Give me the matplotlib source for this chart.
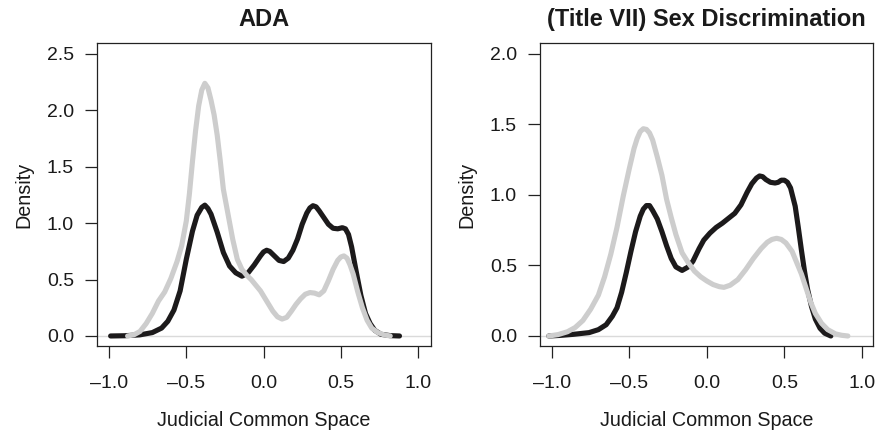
import matplotlib
matplotlib.use("Agg")
import matplotlib.pyplot as plt

plt.rcParams["font.family"] = ["Liberation Sans", "DejaVu Sans"]

# ADA panel
ada_black_x = [-0.99, -0.90, -0.80, -0.72, -0.66, -0.62, -0.58, -0.54, -0.50, -0.46,
               -0.43, -0.40, -0.38, -0.36, -0.34, -0.30, -0.26, -0.22, -0.18, -0.14,
               -0.10, -0.06, -0.02, 0.0, 0.02, 0.04, 0.07, 0.10, 0.13, 0.16,
               0.19, 0.22, 0.25, 0.28, 0.30, 0.32, 0.34, 0.36, 0.39, 0.42,
               0.45, 0.48, 0.51, 0.53, 0.55, 0.57, 0.60, 0.63, 0.66,
               0.69, 0.72, 0.76, 0.82, 0.88]
ada_black_y = [0.0, 0.002, 0.01, 0.03, 0.07, 0.13, 0.23, 0.40, 0.68, 0.93,
               1.07, 1.14, 1.16, 1.13, 1.08, 0.92, 0.74, 0.62, 0.56, 0.53,
               0.56, 0.63, 0.71, 0.745, 0.76, 0.75, 0.71, 0.67, 0.66, 0.69,
               0.76, 0.86, 0.99, 1.09, 1.135, 1.155, 1.145, 1.11, 1.05, 0.99,
               0.955, 0.95, 0.96, 0.95, 0.90, 0.79, 0.57, 0.36, 0.20,
               0.11, 0.05, 0.015, 0.003, 0.0]

ada_gray_x = [-0.88, -0.84, -0.80, -0.76, -0.72, -0.68, -0.64, -0.60, -0.56, -0.53,
              -0.50, -0.48, -0.46, -0.44, -0.42, -0.40, -0.38, -0.36, -0.34, -0.32,
              -0.30, -0.28, -0.26, -0.23, -0.20, -0.17, -0.14, -0.11, -0.08, -0.05,
              -0.02, 0.02, 0.06, 0.09, 0.12, 0.15, 0.18, 0.21, 0.24, 0.27,
              0.30, 0.33, 0.36, 0.39, 0.42, 0.45, 0.48, 0.50, 0.52, 0.54,
              0.56, 0.58, 0.61, 0.64, 0.67, 0.70, 0.74, 0.78, 0.82]
ada_gray_y = [0.0, 0.01, 0.04, 0.11, 0.20, 0.31, 0.39, 0.51, 0.66, 0.80,
              1.02, 1.26, 1.55, 1.82, 2.04, 2.18, 2.24, 2.20, 2.09, 1.96,
              1.78, 1.55, 1.30, 1.08, 0.86, 0.68, 0.59, 0.54, 0.50, 0.45,
              0.40, 0.31, 0.22, 0.17, 0.15, 0.165, 0.22, 0.28, 0.33, 0.37,
              0.385, 0.38, 0.365, 0.40, 0.49, 0.59, 0.67, 0.70, 0.71, 0.69,
              0.63, 0.55, 0.39, 0.25, 0.14, 0.07, 0.03, 0.01, 0.0]

# Sex discrimination panel
sex_black_x = [-1.02, -0.95, -0.86, -0.76, -0.70, -0.65, -0.61, -0.58, -0.55, -0.52,
               -0.49, -0.46, -0.43, -0.41, -0.39, -0.37, -0.35, -0.32, -0.29, -0.26,
               -0.23, -0.20, -0.16, -0.12, -0.09, -0.05, -0.02, 0.02, 0.06, 0.10,
               0.14, 0.18, 0.22, 0.26, 0.29, 0.32, 0.34, 0.36, 0.38, 0.41,
               0.44, 0.46, 0.48, 0.50, 0.52, 0.54, 0.57, 0.59, 0.61, 0.63,
               0.65, 0.675, 0.70, 0.73, 0.76, 0.80]
sex_black_y = [0.0, 0.004, 0.012, 0.024, 0.045, 0.08, 0.14, 0.20, 0.31, 0.45,
               0.60, 0.74, 0.85, 0.90, 0.925, 0.925, 0.89, 0.83, 0.74, 0.64,
               0.55, 0.49, 0.465, 0.49, 0.53, 0.62, 0.68, 0.73, 0.77, 0.80,
               0.835, 0.87, 0.93, 1.02, 1.08, 1.12, 1.135, 1.13, 1.11, 1.09,
               1.085, 1.09, 1.105, 1.105, 1.09, 1.05, 0.92, 0.77, 0.61, 0.46,
               0.33, 0.21, 0.12, 0.055, 0.02, 0.0]

sex_gray_x = [-1.02, -0.96, -0.90, -0.85, -0.80, -0.75, -0.70, -0.66, -0.62, -0.58,
              -0.54, -0.50, -0.47, -0.45, -0.43, -0.41, -0.39, -0.37, -0.35, -0.32,
              -0.29, -0.26, -0.23, -0.20, -0.16, -0.12, -0.08, -0.04, 0.0, 0.04,
              0.08, 0.11, 0.15, 0.20, 0.25, 0.30, 0.35, 0.39, 0.42, 0.45,
              0.48, 0.51, 0.55, 0.58, 0.61, 0.64, 0.67, 0.70, 0.74, 0.78,
              0.83, 0.87, 0.91]
sex_gray_y = [0.0, 0.01, 0.03, 0.06, 0.11, 0.19, 0.29, 0.42, 0.58, 0.77,
              0.99, 1.19, 1.33, 1.40, 1.45, 1.47, 1.465, 1.44, 1.39, 1.27,
              1.14, 0.97, 0.84, 0.72, 0.59, 0.52, 0.46, 0.42, 0.39, 0.365,
              0.35, 0.345, 0.36, 0.40, 0.47, 0.55, 0.62, 0.665, 0.685, 0.693,
              0.685, 0.66, 0.60, 0.52, 0.44, 0.34, 0.24, 0.16, 0.09, 0.045,
              0.015, 0.005, 0.0]

x_ticks = [-1.0, -0.5, 0.0, 0.5, 1.0]
x_tick_labels = ["\u20131.0", "\u20130.5", "0.0", "0.5", "1.0"]
ada_y_ticks = [0.0, 0.5, 1.0, 1.5, 2.0, 2.5]
sex_y_ticks = [0.0, 0.5, 1.0, 1.5, 2.0]

BLACK = "#1c1a1b"
GRAY = "#cdcdcd"
TEXT = "#1a1a1a"

fig = plt.figure(figsize=(8.78, 4.33), dpi=100)
fig.patch.set_facecolor("white")

panels = [
    dict(pos=[0.1105, 0.2009, 0.3804, 0.6998], title="ADA",
         bx=ada_black_x, by=ada_black_y, gx=ada_gray_x, gy=ada_gray_y,
         xlim=(-1.078, 1.084), ylim=(-0.089, 2.5975), yt=ada_y_ticks),
    dict(pos=[0.615, 0.2009, 0.3793, 0.6998], title="(Title VII) Sex Discrimination",
         bx=sex_black_x, by=sex_black_y, gx=sex_gray_x, gy=sex_gray_y,
         xlim=(-1.077, 1.072), ylim=(-0.071, 2.078), yt=sex_y_ticks),
]

for p in panels:
    ax = fig.add_axes(p["pos"])
    ax.axhline(0, color="#dadada", lw=1.0, zorder=1)
    ax.plot(p["bx"], p["by"], color=BLACK, lw=3.7, solid_capstyle="round",
            solid_joinstyle="round", zorder=2)
    ax.plot(p["gx"], p["gy"], color=GRAY, lw=3.7, solid_capstyle="round",
            solid_joinstyle="round", zorder=3)
    ax.set_xlim(*p["xlim"]); ax.set_ylim(*p["ylim"])
    ax.set_xticks(x_ticks)
    ax.set_xticklabels(x_tick_labels)
    ax.set_yticks(p["yt"])
    ax.set_yticklabels([f"{v:.1f}" for v in p["yt"]])
    for sp in ax.spines.values():
        sp.set_linewidth(0.9); sp.set_color("#222222")
    ax.tick_params(direction="out", length=8.6, width=0.9, colors="#222222",
                   labelsize=14, labelcolor=TEXT)
    ax.tick_params(axis="x", pad=12)
    ax.tick_params(axis="y", pad=8)
    ax.set_xlabel("Judicial Common Space", fontsize=14.2, color=TEXT, labelpad=14)
    ax.set_ylabel("Density", fontsize=14.2, color=TEXT, labelpad=10)
    ax.set_title(p["title"], fontsize=17, fontweight="bold", color=TEXT, pad=12)

fig.savefig("out.png", dpi=100, facecolor="white")
